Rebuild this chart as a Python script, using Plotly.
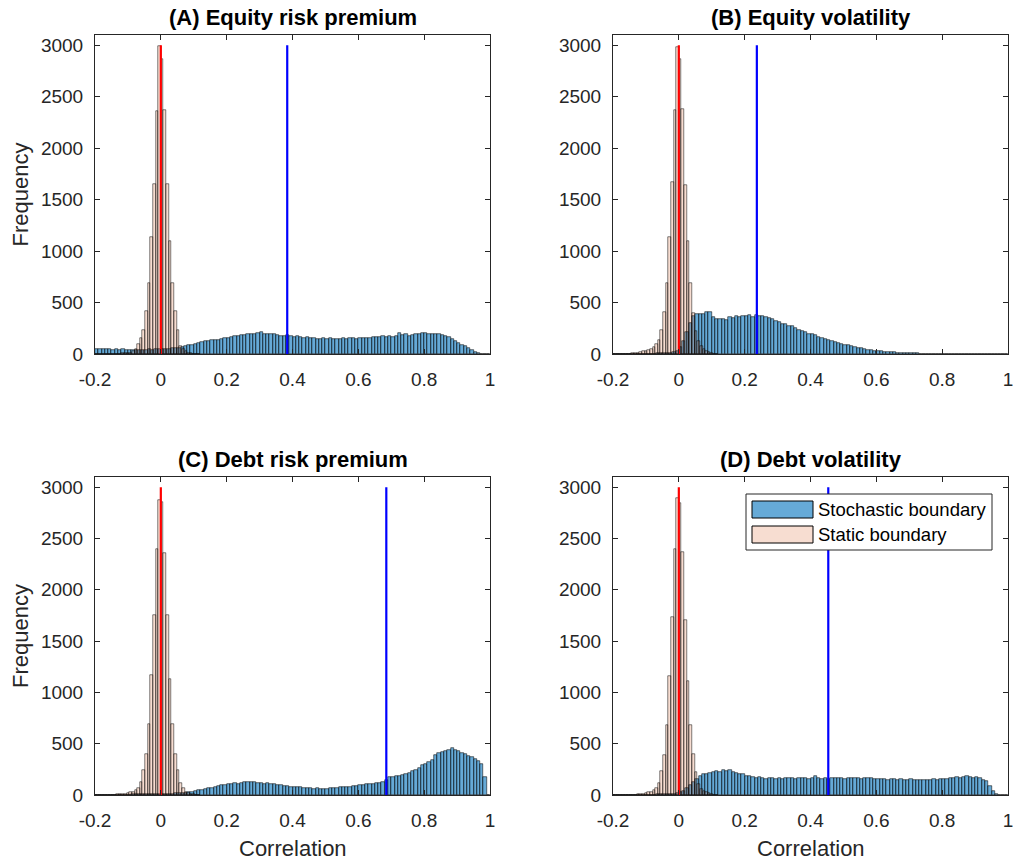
import plotly.graph_objects as go

# ---------------- data ----------------
panel_titles = ["(A) Equity risk premium", "(B) Equity volatility",
                "(C) Debt risk premium", "(D) Debt volatility"]

# Stochastic boundary histogram: bins of width 0.01 starting at -0.2
STOCH_BIN_START = -0.2
STOCH_BIN_WIDTH = 0.01
stoch_A = [48, 44, 46, 45, 47, 43, 45, 41, 44, 40,
           38, 42, 39, 41, 43, 40, 44, 42, 46, 48,
           50, 47, 52, 55, 58, 62, 70, 78, 84, 90,
           98, 110, 118, 124, 128, 132, 138, 140, 150, 155,
           160, 166, 178, 175, 182, 188, 192, 190, 196, 200,
           212, 196, 190, 194, 191, 184, 178, 176, 185, 175,
           168, 172, 166, 160, 164, 155, 158, 150, 146, 152,
           148, 154, 142, 150, 146, 155, 150, 158, 154, 149,
           156, 160, 152, 158, 164, 170, 168, 172, 167, 174,
           170, 176, 200, 182, 190, 178, 186, 194, 190, 200,
           204, 198, 196, 190, 194, 185, 175, 162, 145, 125,
           110, 92, 76, 55, 38, 20, 6, 1, 0, 0]
stoch_B = [1, 2, 1, 2, 1, 2, 2, 3, 2, 3,
           3, 4, 4, 5, 6, 7, 9, 12, 18, 32,
           65, 130, 215, 300, 370, 385, 392, 390, 408, 404,
           362, 345, 342, 344, 330, 358, 352, 368, 360, 372,
           366, 375, 362, 378, 368, 372, 358, 350, 336, 320,
           312, 295, 288, 270, 274, 250, 236, 222, 212, 196,
           190, 182, 165, 152, 148, 134, 126, 112, 104, 96,
           90, 84, 74, 66, 60, 54, 48, 42, 38, 34,
           30, 27, 24, 20, 18, 16, 14, 12, 10, 8,
           7, 6, 5, 4, 4, 3, 3, 2, 2, 2,
           1, 1, 1, 1, 0, 1, 0, 0, 0, 0,
           0, 0, 0, 0, 0, 0, 0, 0, 0, 0]
stoch_C = [2, 3, 2, 3, 2, 4, 3, 2, 3, 4,
           4, 5, 5, 6, 6, 7, 8, 8, 9, 10,
           10, 11, 12, 13, 15, 18, 20, 24, 28, 34,
           40, 46, 50, 58, 64, 72, 80, 92, 100, 98,
           104, 110, 114, 112, 118, 125, 130, 122, 126, 118,
           120, 112, 115, 108, 110, 102, 96, 92, 85, 80,
           82, 76, 74, 70, 72, 66, 62, 64, 58, 60,
           62, 66, 64, 70, 74, 78, 82, 80, 88, 92,
           98, 95, 104, 110, 112, 116, 120, 126, 145, 172,
           178, 182, 188, 195, 205, 215, 230, 245, 268, 290,
           305, 318, 340, 390, 405, 418, 430, 440, 460, 440,
           432, 410, 400, 382, 372, 355, 330, 300, 180, 0]
stoch_D = [1, 2, 1, 2, 2, 1, 3, 2, 2, 3,
           3, 4, 4, 5, 6, 6, 8, 9, 12, 16,
           25, 40, 65, 95, 128, 160, 185, 200, 205, 212,
           225, 232, 226, 240, 230, 248, 222, 215, 200, 204,
           190, 182, 176, 170, 174, 165, 160, 168, 162, 158,
           165, 160, 168, 162, 166, 158, 164, 170, 165, 160,
           168, 182, 165, 160, 164, 158, 166, 162, 170, 164,
           158, 168, 162, 166, 170, 160, 165, 162, 168, 158,
           156, 152, 160, 150, 156, 152, 148, 154, 150, 146,
           152, 148, 144, 150, 142, 148, 145, 152, 148, 155,
           160, 158, 166, 164, 172, 168, 176, 182, 175, 170,
           172, 165, 150, 135, 90, 42, 10, 2, 0, 0]

# Static boundary histogram: bins of width 0.008 starting at -0.2
STATIC_BIN_START = -0.2
STATIC_BIN_WIDTH = 0.008
static_A = [0, 0, 0, 0, 1, 1, 2, 2, 3, 4,
            5, 6, 8, 12, 25, 50, 100, 160, 235, 420,
            690, 1140, 1650, 2360, 2990, 2870, 2370, 1650, 1100, 690,
            420, 235, 80, 50, 25, 12, 6, 3, 1, 0]
static_B = [0, 0, 0, 0, 1, 2, 3, 5, 8, 12,
            18, 25, 32, 40, 50, 70, 100, 140, 230, 410,
            690, 1135, 1670, 2370, 2987, 2870, 2380, 1640, 1100, 690,
            400, 220, 130, 80, 50, 30, 15, 8, 4, 2]
static_C = [0, 0, 0, 0, 1, 2, 3, 4, 6, 8,
            10, 14, 18, 25, 32, 49, 65, 130, 245, 398,
            691, 1167, 1754, 2403, 2879, 2860, 2364, 1754, 1131, 691,
            398, 245, 114, 65, 33, 20, 12, 6, 3, 1]
static_D = [0, 0, 0, 0, 1, 1, 2, 3, 4, 6,
            8, 12, 18, 25, 32, 45, 70, 120, 235, 390,
            685, 1160, 1735, 2400, 2900, 2845, 2370, 1710, 1115, 685,
            400, 220, 105, 60, 40, 25, 15, 8, 4, 2]

# Vertical reference lines (mean correlations) and their height
static_mean = [0.0, 0.0, 0.0, 0.0]
stoch_mean = [0.384, 0.237, 0.685, 0.454]
LINE_TOP = 3000

x_tick_vals = [-0.2, 0, 0.2, 0.4, 0.6, 0.8, 1]
x_tick_text = ["-0.2", "0", "0.2", "0.4", "0.6", "0.8", "1"]
y_tick_vals = [0, 500, 1000, 1500, 2000, 2500, 3000]
y_tick_text = ["0", "500", "1000", "1500", "2000", "2500", "3000"]
X_RANGE = [-0.2, 1]
Y_RANGE = [0, 3100]

legend_labels = ["Stochastic boundary", "Static boundary"]

# ---------------- styling ----------------
W, H = 1013, 860
FONT = "Liberation Sans, Arial, Helvetica, sans-serif"
AX = "#262626"
BLUE_FILL = "rgba(0,114,189,0.6)"
PINK_FILL = "rgba(217,83,25,0.2)"

def px_x(p):
    return p / W

def px_y(p):
    return 1 - p / H

x_domains = [[px_x(95), px_x(490)], [px_x(613), px_x(1008)]]
y_domains = [[px_y(354), px_y(35)], [px_y(795), px_y(477)]]

stoch_all = [stoch_A, stoch_B, stoch_C, stoch_D]
static_all = [static_A, static_B, static_C, static_D]

fig = go.Figure()
layout_axes = {}
annotations = []

for k in range(4):
    r, c = divmod(k, 2)
    sx = "" if k == 0 else str(k + 1)
    xa, ya = "x" + sx, "y" + sx

    s_counts = stoch_all[k]
    s_centers = [STOCH_BIN_START + STOCH_BIN_WIDTH * (i + 0.5) for i in range(len(s_counts))]
    t_counts = static_all[k]
    t_centers = [STATIC_BIN_START + STATIC_BIN_WIDTH * (i + 0.5) for i in range(len(t_counts))]

    fig.add_trace(go.Bar(x=s_centers, y=s_counts, width=STOCH_BIN_WIDTH,
                         marker=dict(color=BLUE_FILL, line=dict(color="black", width=0.55)),
                         name=legend_labels[0], showlegend=False, xaxis=xa, yaxis=ya))
    fig.add_trace(go.Bar(x=t_centers, y=t_counts, width=STATIC_BIN_WIDTH,
                         marker=dict(color=PINK_FILL, line=dict(color="black", width=0.5)),
                         name=legend_labels[1], showlegend=False, xaxis=xa, yaxis=ya))
    fig.add_trace(go.Scatter(x=[static_mean[k], static_mean[k]], y=[0, LINE_TOP], mode="lines",
                             line=dict(color="#FF0000", width=2.2), showlegend=False,
                             xaxis=xa, yaxis=ya, hoverinfo="skip"))
    fig.add_trace(go.Scatter(x=[stoch_mean[k], stoch_mean[k]], y=[0, LINE_TOP], mode="lines",
                             line=dict(color="#0000FF", width=2.2), showlegend=False,
                             xaxis=xa, yaxis=ya, hoverinfo="skip"))

    common = dict(showline=True, linecolor=AX, linewidth=1, mirror="ticks",
                  ticks="inside", ticklen=5, tickwidth=1, tickcolor=AX,
                  showgrid=False, zeroline=False, automargin=False,
                  ticklabeloverflow="allow",
                  tickfont=dict(family=FONT, size=19, color=AX))
    layout_axes["xaxis" + sx] = dict(common, domain=x_domains[c], range=X_RANGE,
                                     tickvals=x_tick_vals, ticktext=x_tick_text,
                                     anchor=ya, ticklabelstandoff=8)
    layout_axes["yaxis" + sx] = dict(common, domain=y_domains[r], range=Y_RANGE,
                                     tickvals=y_tick_vals, ticktext=y_tick_text,
                                     anchor=xa, ticklabelstandoff=7)

    title_y = px_y(18) if r == 0 else px_y(460)
    annotations.append(dict(text="<b>" + panel_titles[k] + "</b>", xref="paper", yref="paper",
                            x=sum(x_domains[c]) / 2, y=title_y, xanchor="center", yanchor="middle",
                            showarrow=False, font=dict(family=FONT, size=22, color="black")))

    if c == 0:
        annotations.append(dict(text="Frequency", xref="paper", yref="paper",
                                x=px_x(20), y=sum(y_domains[r]) / 2, textangle=-90,
                                xanchor="center", yanchor="middle", showarrow=False,
                                font=dict(family=FONT, size=22, color=AX)))
    if r == 1:
        annotations.append(dict(text="Correlation", xref="paper", yref="paper",
                                x=sum(x_domains[c]) / 2, y=px_y(848),
                                xanchor="center", yanchor="middle", showarrow=False,
                                font=dict(family=FONT, size=22, color=AX)))

# manual legend in panel D (MATLAB style long swatches)
shapes = [
    dict(type="rect", xref="paper", yref="paper", x0=px_x(746), x1=px_x(992),
         y0=px_y(550), y1=px_y(494), fillcolor="white", line=dict(color=AX, width=1)),
    dict(type="rect", xref="paper", yref="paper", x0=px_x(752), x1=px_x(813),
         y0=px_y(518), y1=px_y(501), fillcolor=BLUE_FILL, line=dict(color="black", width=1)),
    dict(type="rect", xref="paper", yref="paper", x0=px_x(752), x1=px_x(813),
         y0=px_y(543), y1=px_y(526), fillcolor=PINK_FILL, line=dict(color="black", width=1)),
]
annotations.append(dict(text=legend_labels[0], xref="paper", yref="paper", x=px_x(816), y=px_y(509.5),
                        xanchor="left", yanchor="middle", showarrow=False,
                        font=dict(family=FONT, size=18.5, color="black")))
annotations.append(dict(text=legend_labels[1], xref="paper", yref="paper", x=px_x(816), y=px_y(534.5),
                        xanchor="left", yanchor="middle", showarrow=False,
                        font=dict(family=FONT, size=18.5, color="black")))

fig.update_layout(width=W, height=H, margin=dict(l=0, r=0, t=0, b=0, autoexpand=False),
                  paper_bgcolor="white", plot_bgcolor="white",
                  barmode="overlay", bargap=0, showlegend=False,
                  annotations=annotations, shapes=shapes,
                  font=dict(family=FONT), **layout_axes)

fig.write_html("out.html")
